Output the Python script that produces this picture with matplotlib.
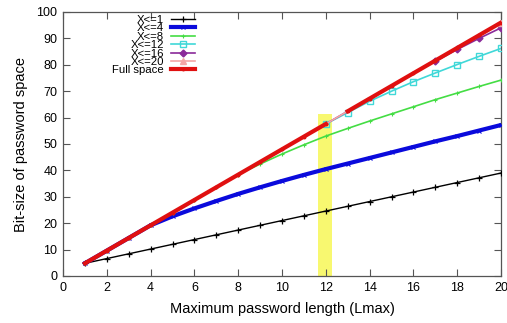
import matplotlib
matplotlib.use("Agg")
import matplotlib.pyplot as plt
from matplotlib.patches import Rectangle

plt.rcParams['font.family'] = ['Liberation Sans', 'DejaVu Sans']

L = list(range(1, 21))
full = [4.8, 9.6, 14.4, 19.2, 24.0, 28.8, 33.6, 38.4, 43.2, 48.0,
        52.8, 57.6, 62.4, 67.2, 72.0, 76.8, 81.6, 86.4, 91.2, 96.0]
x1 = [4.8, 6.6, 8.4, 10.2, 12.0, 13.8, 15.6, 17.4, 19.2, 21.0,
      22.8, 24.6, 26.4, 28.2, 30.0, 31.8, 33.6, 35.4, 37.2, 39.0]
x4 = [4.8, 9.6, 14.4, 19.2, 22.6, 25.6, 28.4, 31.1, 33.6, 36.0,
      38.3, 40.5, 42.6, 44.7, 46.8, 48.9, 51.0, 53.0, 55.1, 57.2]
x8 = [4.8, 9.6, 14.4, 19.2, 24.0, 28.8, 33.6, 38.4, 42.4, 46.2,
      49.7, 53.0, 55.9, 58.7, 61.4, 64.1, 66.8, 69.3, 71.8, 74.2]
x12 = [4.8, 9.6, 14.4, 19.2, 24.0, 28.8, 33.6, 38.4, 43.2, 48.0,
       52.8, 57.6, 61.9, 66.2, 70.0, 73.6, 76.9, 80.1, 83.2, 86.2]
x16 = [4.8, 9.6, 14.4, 19.2, 24.0, 28.8, 33.6, 38.4, 43.2, 48.0,
       52.8, 57.6, 62.4, 67.2, 72.0, 76.8, 81.3, 85.8, 90.0, 94.0]
x20 = [4.8, 9.6, 14.4, 19.2, 24.0, 28.8, 33.6, 38.4, 43.2, 48.0,
       52.8, 57.6, 62.4, 67.2, 72.0, 76.8, 81.6, 86.4, 91.2, 95.8]
labels = ["X<=1", "X<=4", "X<=8", "X<=12", "X<=16", "X<=20", "Full space"]
highlight = (11.65, 12.3, 61.4)

fig = plt.figure(figsize=(5.07, 3.23), dpi=100)
ax = fig.add_axes([63/507, 1-276/323, (501-63)/507, (276-12)/323])

ax.add_patch(Rectangle((highlight[0], 0), highlight[1]-highlight[0], highlight[2],
                       facecolor='#f8f870', edgecolor='none', zorder=1))

ax.plot(L, x1, color='black', lw=1.0, marker='+', ms=5, mew=0.9, label=labels[0], zorder=3)
ax.plot(L, x4, color='#0a0adc', lw=3.0, marker='x', ms=2.5, mew=0.8, label=labels[1], zorder=3)
ax.plot(L, x8, color='#44dd44', lw=1.2, marker='+', ms=3, mew=0.8, label=labels[2], zorder=3)
ax.plot(L, x12, color='#40d8d8', lw=1.2, marker='s', ms=4.5, mfc='none', mew=1.0,
        markevery=slice(11, None), label=labels[3], zorder=3)
ax.plot(L, x16, color='#8a2a9a', lw=1.2, marker='D', ms=3.5,
        markevery=slice(16, None), label=labels[4], zorder=3)
ax.plot(L, x20, color='#f4a6a6', lw=1.2, marker='^', ms=4,
        markevery=slice(19, None), label=labels[5], zorder=3)
ax.plot(L[:12], full[:12], color='#e01010', lw=3.0, marker='o', ms=1.8, label=labels[6], zorder=4)
ax.plot(L[12:], full[12:], color='#e01010', lw=3.0, marker='o', ms=1.8, zorder=4)

ax.set_xlim(0, 20)
ax.set_ylim(0, 100)
ax.set_xticks(range(0, 21, 2))
ax.set_yticks(range(0, 101, 10))
ax.tick_params(direction='in', length=5, width=0.8, color='#555555', labelsize=9,
               top=True, right=True, pad=4)
for s in ax.spines.values():
    s.set_color('#555555')
    s.set_linewidth(0.9)

ax.set_xlabel("Maximum password length (Lmax)", fontsize=10.5, labelpad=6)
ax.set_ylabel("Bit-size of password space", fontsize=10.5, labelpad=6)

leg = ax.legend(loc='upper right', bbox_to_anchor=(195/507, 1-15/323),
                bbox_transform=fig.transFigure, markerfirst=False, frameon=False,
                fontsize=8.2, labelspacing=-0.14, handlelength=2.1, handletextpad=0.6,
                borderpad=0, borderaxespad=0)

fig.savefig("out.png", dpi=100)
